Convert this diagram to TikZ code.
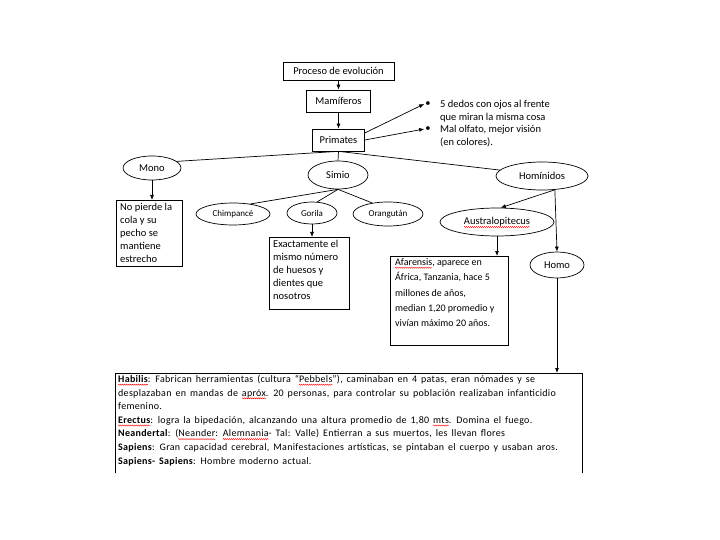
\documentclass[tikz,border=0pt]{standalone}
\usepackage{fontspec}
\setmainfont{Carlito}
\newfontfamily\widefont{Carlito}[LetterSpace=3,WordSpace=1.55]
\usetikzlibrary{arrows.meta,shapes.geometric,decorations.pathmorphing}
\newsavebox\sqbox
\newlength\sqlen
\newcommand\sqw[1]{\sbox\sqbox{#1}\setlength\sqlen{\wd\sqbox}\rlap{\tikz[overlay,baseline=0pt,x=1pt,y=1pt]\draw[red,line width=0.4pt,decorate,decoration={snake,amplitude=0.6pt,segment length=2pt}] (0,-2.2) -- (\sqlen,-2.2);}\usebox\sqbox}
\begin{document}
\begin{tikzpicture}[x=1pt,y=-1pt,
  font=\fontsize{10.5}{13}\selectfont,
  box/.style={draw,line width=0.7pt,inner sep=0pt},
  ell/.style={draw,ellipse,line width=0.7pt,inner sep=0pt},
  arr/.style={-{Latex[length=5pt,width=4pt]},line width=0.7pt},
  ln/.style={line width=0.7pt},
  txt/.style={inner sep=0pt,align=left,anchor=north west},
  small/.style={font=\fontsize{9}{11}\selectfont}]
\useasboundingbox (0,0) rectangle (720,540);
% top chain
\node[box,minimum width=111pt,minimum height=18pt] (proc) at (338.5,71) {Proceso de evolución};
\node[box,minimum width=64pt,minimum height=22pt] (mam) at (338.5,101) {Mamíferos};
\node[box,minimum width=52pt,minimum height=22pt] (prim) at (338.5,140) {Primates};
\draw[arr] (proc) -- (mam);
\draw[arr] (mam) -- (prim);
% bullets
\node[inner sep=1pt] (b1) at (428,104) {•};
\node[inner sep=1pt] (b2) at (428,129) {•};
\node[inner sep=0pt,anchor=base west] (t1a) at (440,107.5) {5 dedos con ojos al frente};
\node[inner sep=0pt,anchor=base west] (t1b) at (440,120.5) {que miran la misma cosa};
\node[inner sep=0pt,anchor=base west] (t2a) at (440,132.5) {Mal olfato, mejor visión};
\node[inner sep=0pt,anchor=base west] (t2b) at (440,146) {(en colores).};
\draw[arr] (prim.15) -- (b1.west);
\draw[arr] (prim.east) -- (b2.west);
% level 2
\node[ell,minimum width=58pt,minimum height=24pt] (mono) at (152,168) {Mono};
\node[ell,minimum width=60pt,minimum height=28pt] (simio) at (338,175) {Simio};
\node[ell,minimum width=92pt,minimum height=28pt] (hom) at (542,176) {Homínidos};
\draw[ln] (prim.south) -- (mono.15);
\draw[ln] (prim.south) -- (simio.north);
\draw[ln] (prim.south) -- (hom.172);
% simio children
\node[ell,small,minimum width=74pt,minimum height=22pt] (chimp) at (233,214) {Chimpancé};
\node[ell,small,minimum width=50pt,minimum height=22pt] (gor) at (312,213) {Gorila};
\node[ell,small,minimum width=70pt,minimum height=24pt] (oran) at (388,214) {Orangután};
\draw[ln] (simio.south) -- (chimp.30);
\draw[ln] (simio.south) -- (gor.65);
\draw[ln] (simio.south) -- (oran.145);
% mono box
\node[box,minimum width=66pt,minimum height=66pt,anchor=north west] (mbox) at (116,200) {};
\node[txt] (mtxt) at (120,203.5) {No pierde la\\cola y su\\pecho se\\mantiene\\estrecho};
\draw[arr] (mono.south) -- (mono.south |- mbox.north);
% gorila box
\node[box,minimum width=80pt,minimum height=72pt,anchor=north west] (gbox) at (269,237) {};
\node[txt] (gtxt) at (273,240) {Exactamente el\\mismo número\\de huesos y\\dientes que\\nosotros};
\draw[arr] (gor.south) -- (gor.south |- gbox.north);
% hominidos children
\node[ell,minimum width=114pt,minimum height=28pt] (aus) at (497,222) {\sqw{Australopitecus}};
\node[ell,minimum width=54pt,minimum height=26pt] (homo) at (557,265) {Homo};
\draw[arr] (hom.-47) -- (aus.75);
\draw[arr] (hom.-47) -- (homo.north);
% afarensis box
\node[box,minimum width=118pt,minimum height=89pt,anchor=north west] (abox) at (390,256) {};
\node[txt,font=\fontsize{10}{15.3}\selectfont] (atxt) at (395,258.5) {\sqw{Afarensis}, aparece en\\África, Tanzania, hace 5\\millones de años,\\median 1,20 promedio y\\vivían máximo 20 años.};
\draw[arr] (aus.south) -- (aus.south |- abox.north);
% bottom box
\node[inner sep=0pt,minimum width=467pt,minimum height=100pt,anchor=north west] (bbox) at (115,373) {};
\draw[line width=1pt] (bbox.south west) -- (bbox.north west) -- (bbox.north east) -- (bbox.south east);
\draw[arr] (homo.south) -- (homo.south |- bbox.north);
\node[txt,font=\widefont\fontsize{10}{13.6}\selectfont] (btxt) at (118,375) {\textbf{\sqw{Habilis}}: Fabrican herramientas (cultura “\sqw{Pebbels}”), caminaban en 4 patas, eran nómades y se\\desplazaban en mandas de \sqw{apróx}. 20 personas, para controlar su población realizaban infanticidio\\femenino.\\\textbf{\sqw{Erectus}}: logra la bipedación, alcanzando una altura promedio de 1,80 \sqw{mts}. Domina el fuego.\\\textbf{Neandertal}: (\sqw{Neander}: \sqw{Alemnania}- Tal: Valle) Entierran a sus muertos, les llevan flores\\\textbf{Sapiens}: Gran capacidad cerebral, Manifestaciones artísticas, se pintaban el cuerpo y usaban aros.\\\textbf{Sapiens- Sapiens}: Hombre moderno actual.};
\end{tikzpicture}
\end{document}
